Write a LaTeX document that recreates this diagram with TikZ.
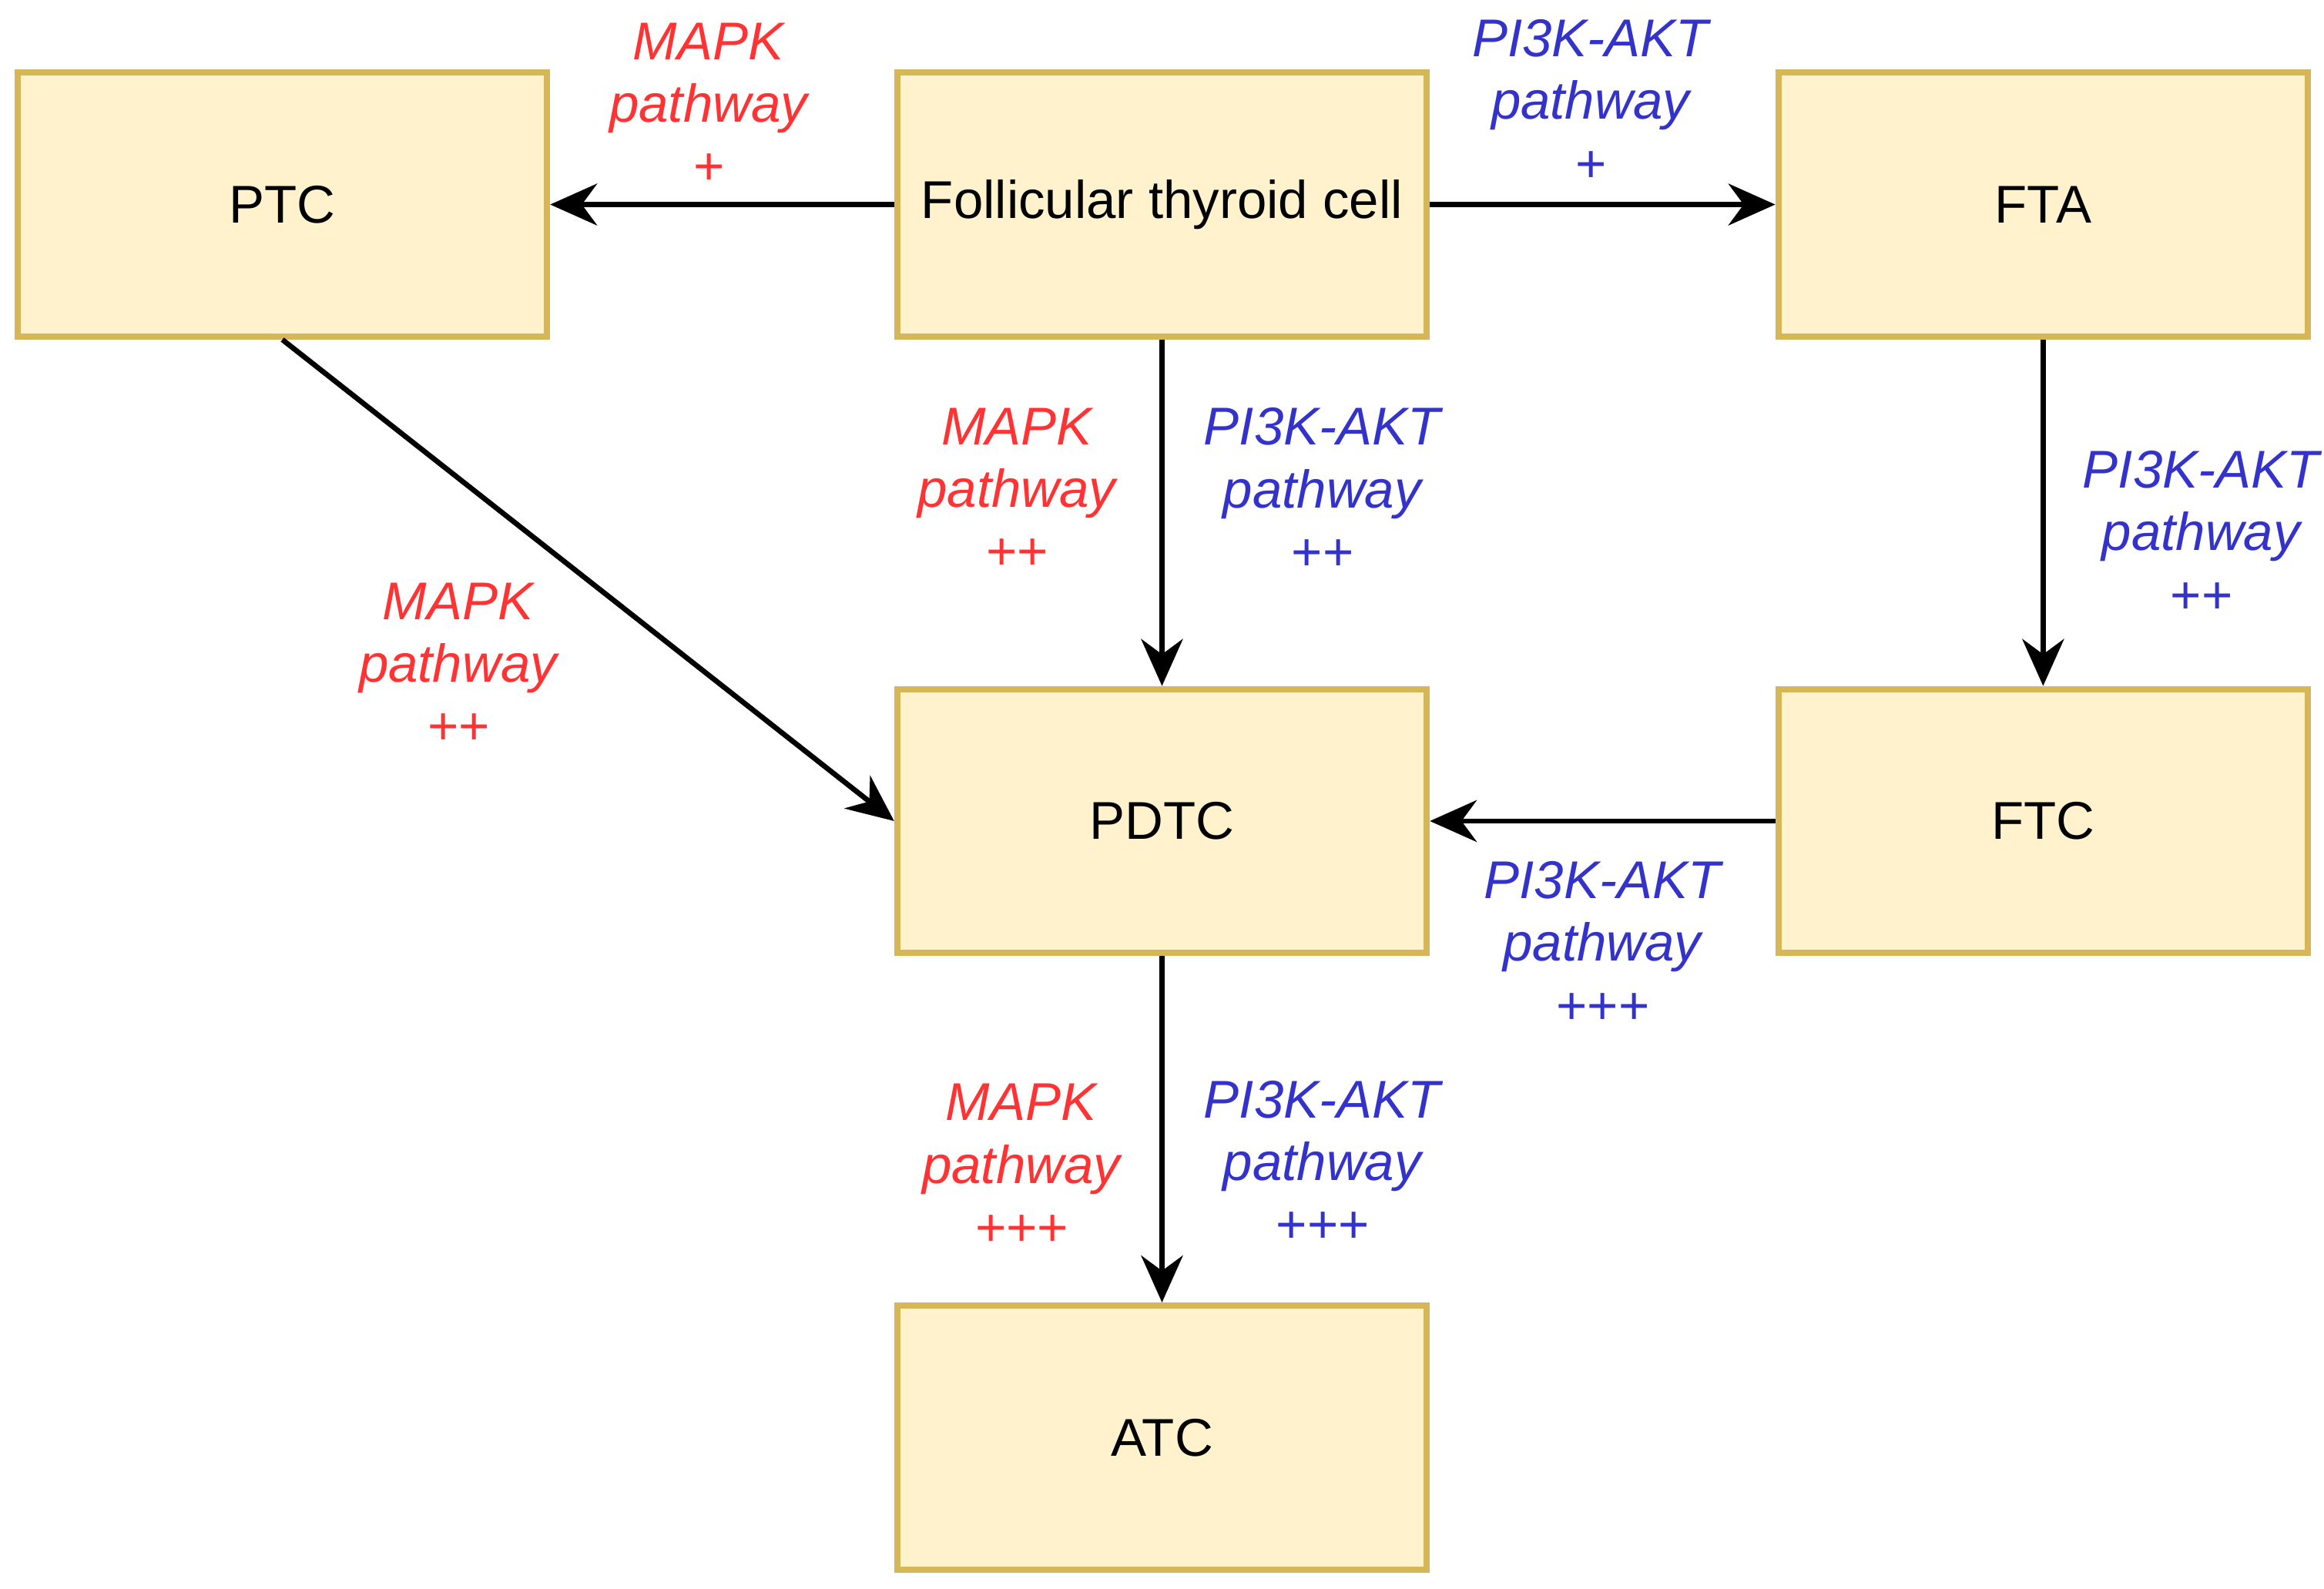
\documentclass[tikz,border=0pt]{standalone}
\usepackage{fontspec}
\setmainfont{Liberation Sans}
\usetikzlibrary{arrows.meta}
\definecolor{bfill}{HTML}{FFF2CC}
\definecolor{bdraw}{HTML}{D6B656}
\definecolor{lred}{HTML}{FF3333}
\definecolor{lblue}{HTML}{3333CC}
\begin{document}
\begin{tikzpicture}[x=0.01cm,y=-0.01cm,
 box/.style={draw=bdraw,fill=bfill,line width=1.2pt,minimum width=3.57cm,minimum height=1.78cm,font=\fontsize{10.2}{12}\selectfont,inner sep=0pt},
 arr/.style={-{Stealth[length=9pt,width=8pt]},line width=1pt},
 red/.style={text=lred,font=\fontsize{10.2}{12}\selectfont\itshape,align=center},
 blue/.style={text=lblue,font=\fontsize{10.2}{12}\selectfont\itshape,align=center}]
\useasboundingbox (0,0) rectangle (1568,1072);
\node[box] (ptc) at (190.5,138) {PTC};
\node[box] (ftc0) at (784,138) {Follicular thyroid cell};
\node[box] (fta) at (1378.5,138) {FTA};
\node[box] (pdtc) at (784,554) {PDTC};
\node[box] (ftc) at (1378.5,554) {FTC};
\node[box] (atc) at (784,970) {ATC};
\draw[arr] (ftc0) -- (ptc);
\draw[arr] (ftc0) -- (fta);
\draw[arr] (ftc0) -- (pdtc);
\draw[arr] (fta) -- (ftc);
\draw[arr] (ftc) -- (pdtc);
\draw[arr] (pdtc) -- (atc);
\draw[arr] (ptc.south) -- (pdtc.west);
\node[red] (l1) at (478,70) {MAPK\\pathway\\+};
\node[blue] (l2) at (1073,68) {PI3K-AKT\\pathway\\+};
\node[red] (l3) at (686,330) {MAPK\\pathway\\++};
\node[blue] (l4) at (892,330) {PI3K-AKT\\pathway\\++};
\node[blue] (l5) at (1485,359) {PI3K-AKT\\pathway\\++};
\node[red] (l6) at (309,448) {MAPK\\pathway\\++};
\node[blue] (l7) at (1081,636) {PI3K-AKT\\pathway\\+++};
\node[red] (l8) at (689,786) {MAPK\\pathway\\+++};
\node[blue] (l9) at (892,784) {PI3K-AKT\\pathway\\+++};
\end{tikzpicture}
\end{document}
